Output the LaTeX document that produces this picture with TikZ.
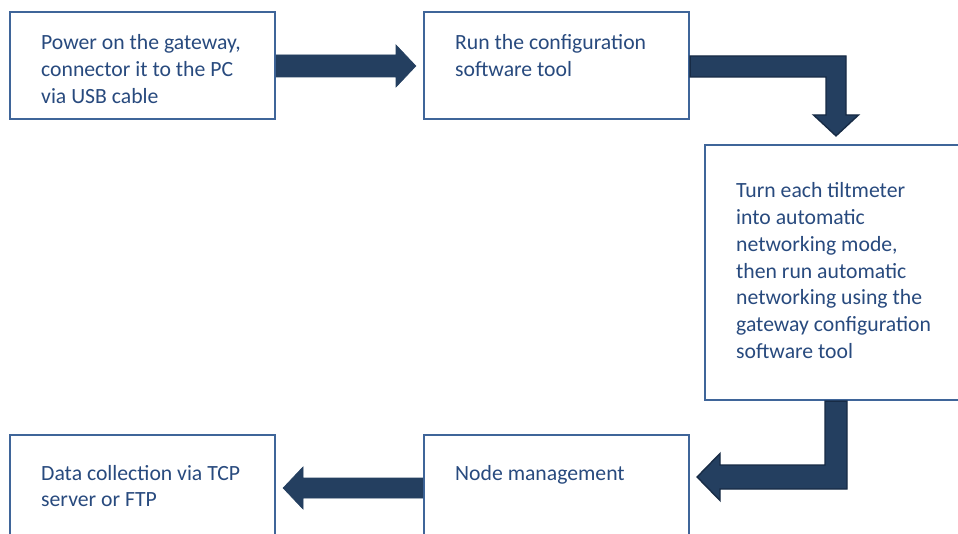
\documentclass[tikz,border=0pt]{standalone}
\usepackage{fontspec}
\setmainfont{Carlito}
\usetikzlibrary{calc}
\definecolor{boxborder}{HTML}{3F6599}
\definecolor{txtblue}{HTML}{284A7E}
\definecolor{arrowfill}{HTML}{243F60}
\definecolor{arrowline}{HTML}{172B45}
\newcommand\mlines[1]{\begin{tabular}[t]{@{}l@{}}#1\end{tabular}}
\begin{document}
\begin{tikzpicture}[x=1pt,y=-1pt,
  stepbox/.style={draw=boxborder,line width=2.2pt,fill=white,rectangle,inner sep=0pt},
  steptext/.style={anchor=base west,inner sep=0pt,text=txtblue,
    font=\fontsize{21.7}{26.7}\selectfont},
  blockarrow/.style={fill=arrowfill,draw=arrowfill,line width=0.6pt,line join=miter},
  bentarrow/.style={fill=arrowfill,draw=arrowline,line width=1.4pt,line join=miter}]
\useasboundingbox (0,0) rectangle (958,534);
\clip (0,0) rectangle (958,534);
\fill[white] (0,0) rectangle (958,534);
% boxes
\node[stepbox,minimum width=265pt,minimum height=107pt] (b1) at (142.5,65.5) {};
\node[stepbox,minimum width=265pt,minimum height=107pt] (b2) at (556.5,65.5) {};
\node[stepbox,minimum width=285pt,minimum height=255pt] (b3) at (847.5,272.5) {};
\node[stepbox,minimum width=265pt,minimum height=145pt] (b4) at (556.5,507.5) {};
\node[stepbox,minimum width=265pt,minimum height=145pt] (b5) at (142.5,507.5) {};
% texts
\node[steptext] (t1) at (41,50) {\mlines{Power on the gateway,\\connector it to the PC\\via USB cable}};
\node[steptext] (t2) at (455,50) {\mlines{Run the configuration\\software tool}};
\node[steptext] (t3) at (736,198) {\mlines{Turn each tiltmeter\\into automatic\\networking mode,\\then run automatic\\networking using the\\gateway configuration\\software tool}};
\node[steptext] (t4) at (455,480) {Node management};
\node[steptext] (t5) at (41,480) {\mlines{Data collection via TCP\\server or FTP}};
% arrow b1 -> b2
\path[blockarrow] (b1.east |- 0,55) -- (396,55) -- (396,45) -- ($(b2.west |- 0,66)+(-7,0)$)
  -- (396,87) -- (396,77) -- (b1.east |- 0,77) -- cycle;
% arrow b2 -> b3
\path[bentarrow] (b2.east |- 0,56) -- (846,56) -- (846,115) -- (858.5,115)
  -- ($(836,0 |- b3.north)+(0,-8)$) -- (813.5,115) -- (826,115) -- (826,77)
  -- (b2.east |- 0,77) -- cycle;
% arrow b3 -> b4
\path[bentarrow] (825,0 |- b3.south) -- (847,0 |- b3.south) -- (847,489) -- (720,489)
  -- (720,500.5) -- ($(b4.east |- 0,477)+(7,0)$) -- (720,453.5) -- (720,465) -- (825,465) -- cycle;
% arrow b4 -> b5
\path[blockarrow] (b4.west |- 0,478) -- (303,478) -- (303,467) -- ($(b5.east |- 0,488)+(7,0)$)
  -- (303,509) -- (303,498) -- (b4.west |- 0,498) -- cycle;
\end{tikzpicture}
\end{document}
